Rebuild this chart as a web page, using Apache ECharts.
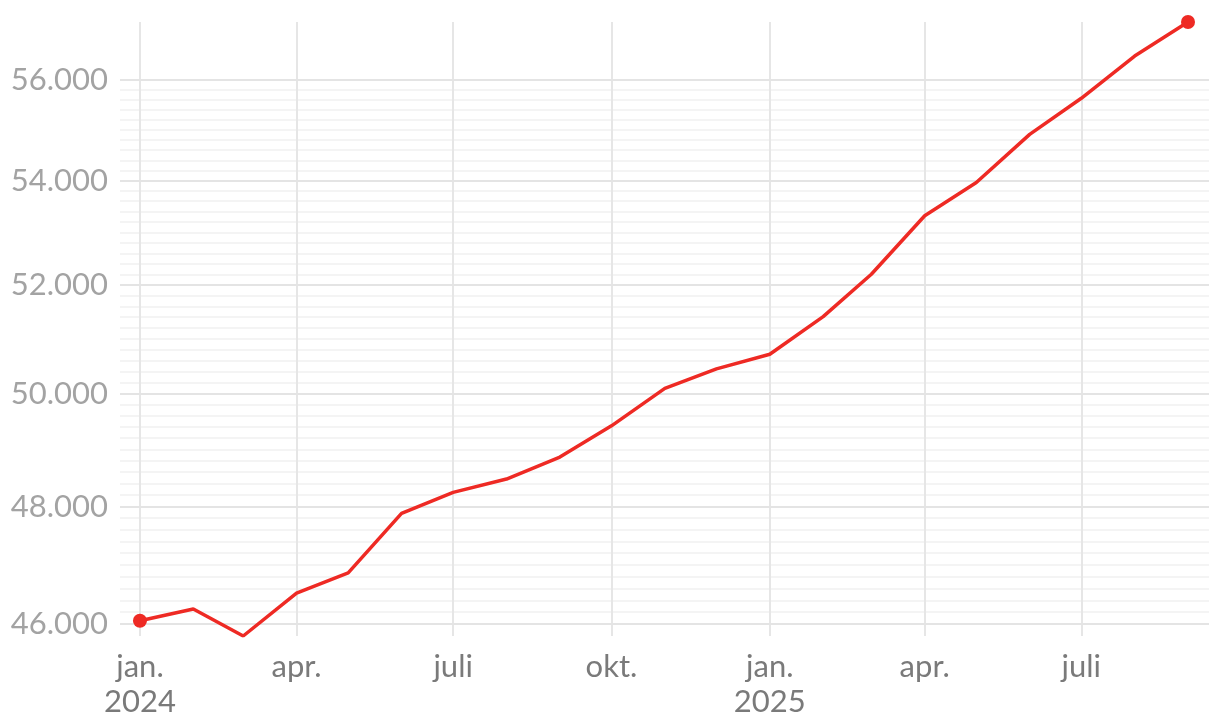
<!DOCTYPE html>
<html>
<head>
<meta charset="utf-8">
<script src="https://cdn.jsdelivr.net/npm/echarts@6/dist/echarts.min.js"></script>
<style>
html,body{margin:0;padding:0;background:#fff;}
#chart{width:1220px;height:728px;}
</style>
</head>
<body>
<div id="chart"></div>
<script>
// Monthly values (first of month), Jan 2024 – Sep 2025
const months = ['2024-01','2024-02','2024-03','2024-04','2024-05','2024-06','2024-07','2024-08','2024-09','2024-10','2024-11','2024-12',
                '2025-01','2025-02','2025-03','2025-04','2025-05','2025-06','2025-07','2025-08','2025-09'];
const values = [46057, 46254, 45805, 46520, 46861, 47880, 48246, 48479, 48865, 49420, 50094, 50448,
                50715, 51410, 52205, 53320, 53965, 54912, 55633, 56488, 57188];
// Axis ticks
const yMajorTicks = [46000, 48000, 50000, 52000, 54000, 56000];
const yMinorStep = 200;
const xTickMonths = ['2024-01','2024-04','2024-07','2024-10','2025-01','2025-04','2025-07'];
const monthLabels = {0:'jan.', 3:'apr.', 6:'juli', 9:'okt.'};

function toTime(s){ const [y,m] = s.split('-').map(Number); return Date.UTC(y, m-1, 1); }
const DAY = 86400000;
const xs = months.map(toTime);
const xTicks = xTickMonths.map(toTime);
const yMinorTicks = [];
for (let v = yMajorTicks[0]; v <= yMajorTicks[yMajorTicks.length-1]; v += yMinorStep) {
  if (yMajorTicks.indexOf(v) < 0) yMinorTicks.push(Math.log(v));
}
const yMin = Math.log(Math.min(...values));
const yMax = Math.log(Math.max(...values));
const fmt = n => String(n).replace(/\B(?=(\d{3})+(?!\d))/g, '.');

const chart = echarts.init(document.getElementById('chart'), null, {renderer:'canvas'});
const FONT = 'Lato';
chart.setOption({
  animation: false,
  backgroundColor: '#ffffff',
  grid: {left: 120, right: 11, top: 22, bottom: 92, containLabel: false},
  xAxis: {
    type: 'value',
    min: xs[0] - 11.6*DAY,
    max: xs[xs.length-1] + 12.2*DAY,
    axisLine: {show: false},
    axisTick: {show: false, customValues: xTicks},
    splitLine: {show: true, lineStyle: {color: '#e6e6e6', width: 2}},
    axisLabel: {
      customValues: xTicks,
      margin: 13,
      color: '#7a7a7a',
      fontFamily: FONT,
      fontSize: 31,
      lineHeight: 35,
      formatter: function(v){
        const d = new Date(v);
        const m = d.getUTCMonth();
        return m === 0 ? monthLabels[0] + '\n' + d.getUTCFullYear() : monthLabels[m];
      }
    }
  },
  yAxis: [{
    type: 'value',
    min: yMin, max: yMax,
    axisLine: {show: false},
    axisTick: {show: false, customValues: yMajorTicks.map(Math.log)},
    splitLine: {show: true, lineStyle: {color: '#e4e4e4', width: 2}},
    axisLabel: {
      customValues: yMajorTicks.map(Math.log),
      margin: 12,
      color: '#a3a3a3',
      fontFamily: FONT,
      fontSize: 31,
      formatter: v => fmt(Math.round(Math.exp(v)))
    },
    z: 1
  }, {
    type: 'value',
    min: yMin, max: yMax,
    axisLine: {show: false},
    axisTick: {show: false, customValues: yMinorTicks},
    axisLabel: {show: false, customValues: yMinorTicks},
    splitLine: {show: true, lineStyle: {color: '#f0f0f0', width: 1.5}},
    z: 0
  }],
  series: [{
    type: 'line',
    yAxisIndex: 0,
    data: xs.map((t, i) => [t, Math.log(values[i])]),
    showAllSymbol: true,
    symbol: 'circle',
    symbolSize: (v, p) => (p.dataIndex === 0 || p.dataIndex === values.length - 1) ? 14 : 0,
    lineStyle: {color: '#ee2a24', width: 3.5},
    itemStyle: {color: '#ee2a24'},
    z: 5
  }]
});
</script>
</body>
</html>
